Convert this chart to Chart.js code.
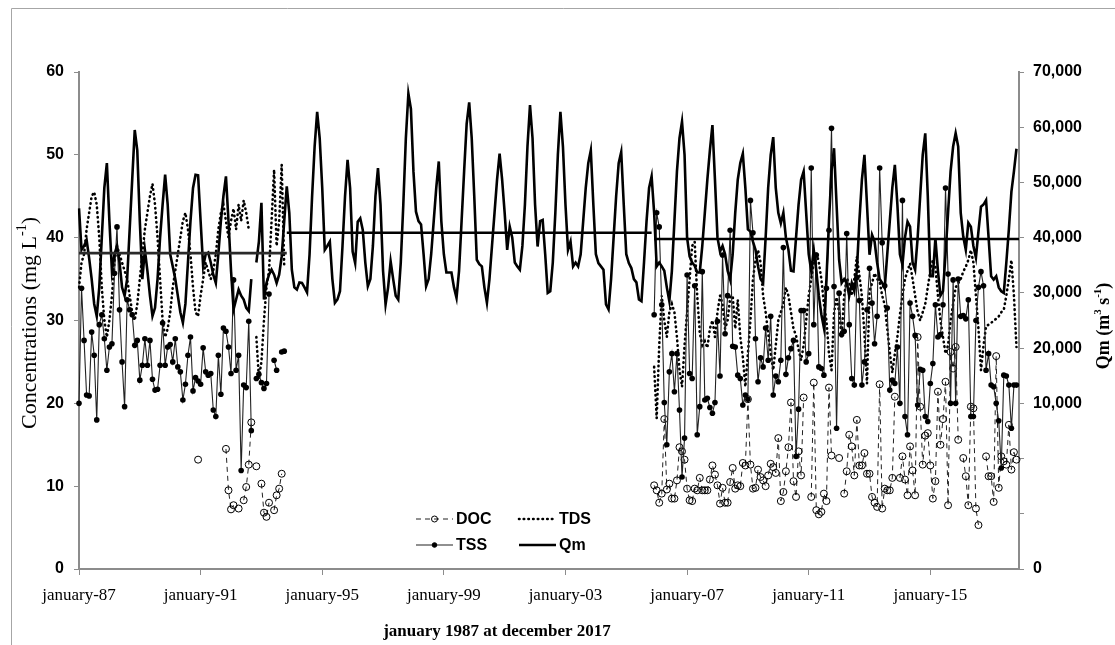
<!DOCTYPE html>
<html>
<head>
<meta charset="utf-8">
<script src="https://cdn.jsdelivr.net/npm/chart.js@4.4.1/dist/chart.umd.min.js"></script>
<style>
  html, body { margin: 0; padding: 0; background: #fff; }
  #wrap { width: 1115px; height: 645px; position: relative; }
</style>
</head>
<body>
<div id="wrap"><canvas id="chart"></canvas></div>
<script>
/* monthly series, january 1987 .. december 2017 */
const monthNames = ["january", "february", "march", "april", "may", "june", "july",
  "august", "september", "october", "november", "december"];
const firstYear = 1987;
const lastYear = 2017;
const labelEvery = 48; // one x label every 4 years

// index of the first month of the second sampling period (december 2005)
const lateStart = 227;

// Qm, mean monthly discharge (m3 s-1), one row per year
const qm = [
  45300, 37800, 38500, 39600, 36300, 32500, 28000, 25800, 31000, 40000, 49000, 53500,
  43000, 34000, 37000, 38500, 35500, 31000, 29500, 32500, 41500, 50500, 59500, 55800,
  43000, 32500, 37800, 34000, 29500, 25800, 27300, 32500, 40000, 46000, 51400, 46000,
  37000, 34800, 32500, 29500, 26500, 24600, 28000, 35500, 43000, 49000, 51400, 51300,
  43000, 34800, 37000, 37300, 35500, 33300, 31800, 37000, 43000, 47500, 51100, 43000,
  34000, 27000, 28800, 30600, 29500, 28800, 27300, 26700, 32500, null, 35500, 39300,
  46300, 28800, 31800, 33300, 34200, 33300, 31800, 33300, 36600, 43000, 49300, 44500,
  34200, 31000, 30600, 31900, 31800, 31000, 30100, 37000, 47500, 56500, 62800, 58000,
  49000, 37800, 38500, 39300, 32500, 28200, 28800, 30300, 38500, 47500, 54100, 49000,
  37500, 35400, 42900, 43500, 41400, 35500, 31200, 32500, 38500, 47500, 52600, 46000,
  34000, 27900, 31000, 35700, 32500, 29500, 28800, 35500, 46000, 58000, 66100, 63300,
  52000, 44700, 43000, 42400, 37000, 31200, 32500, 37000, 43000, 49000, 53800, 43000,
  37000, 33700, 33700, 33700, 31000, 29100, 34000, 43000, 52000, 60600, 64500, 58000,
  47500, 36000, 35200, 34800, 31000, 28200, 32500, 38500, 44500, 50500, 55200, 50500,
  44500, 37800, 42000, 40000, 35500, 34800, 34200, 38500, 46000, 56500, 64000, 58000,
  46000, 38400, 43000, 43200, 37000, 30000, 30300, 35500, 44500, 55000, 62800, 56500,
  46000, 37800, 39300, 34800, 35500, 34800, 37000, 43000, 49000, 53500, 55800, 46000,
  37000, 35400, 34800, 34200, 27900, 27000, 32500, 40000, 47500, 53500, 55500, 46000,
  37000, 35400, 34500, 32500, 31900, 28800, 28500, 35500, 43000, 49000, 51100, 44500,
  34800, 35500, 34800, 34000, 31000, 28500, 34000, 43000, 52000, 58000, 61000, 55000,
  40000, 36600, 35500, 34900, 33700, 33700, 38500, 44500, 50500, 55800, 60400, 50500,
  40000, 37500, 38500, 37000, 34000, 32400, 37000, 44500, 50500, 53500, 55200, 49000,
  41500, 41100, 39300, 37800, 34800, 32500, 31800, 40000, 49000, 55000, 58200, 49000,
  44500, 42600, 44500, 40000, 37800, 34000, 33900, 40000, 46000, 50500, 52000, 44500,
  37000, 34000, 37800, 34000, 29500, 26100, 23700, 32500, 43000, 52000, 56200, 46000,
  36000, 31800, 32500, 31800, 29500, 31800, 30300, 34000, 43000, 50500, 55000, 46000,
  36900, 40500, 39300, 35500, 32500, 31800, 30900, 37000, 43000, 49000, 53200, 46000,
  37000, 35100, 40000, 42900, 42000, 35500, 34200, 40000, 47500, 55000, 58900, 47500,
  33000, 33000, 39900, 34000, 29500, 30300, 37000, 44500, 52000, 56500, 58900, 56500,
  44500, 40200, 37800, 42700, 42000, 38500, 36400, 41200, 45600, 46000, 46800, 40000,
  33000, 32400, 33000, 31000, 30300, 30000, 35500, 41500, 48300, 52000, 56100, null
];

// mean discharge of each period (m3 s-1) and the months it spans
const qmMeans = [37200, 40900, 39750];
const qmMeanFrom = [0, 82, 227];
const qmMeanTo = [82, 226, 371];

// TSS (mg L-1), january 1987 .. october 1993
const tssEarly = [
  20.0, 33.9, 27.6, 21.0, 20.9, 28.6, 25.8, 18.0, 29.5, 30.7,
  27.8, 24.0, 26.8, 27.2, 35.7, 41.3, 31.3, 25.0, 19.6, 32.5,
  31.3, 30.7, 27.0, 27.6, 22.8, 24.6, 27.8, 24.6, 27.6, 22.9,
  21.6, 21.7, 24.6, 29.7, 24.6, 26.8, 27.1, 25.0, 27.8, 24.4,
  23.8, 20.4, 22.3, 25.8, 28.0, 21.5, 23.1, 22.7, 22.3, 26.7,
  23.8, 23.4, 23.6, 19.2, 18.4, 25.8, 21.1, 29.1, 28.7, 26.8,
  23.6, 34.9, 24.0, 25.8, 11.9, 22.2, 21.9, 29.9, 16.7, null,
  23.0, 23.5, 22.5, 21.8, 22.4, 33.2, null, 25.2, 24.0, null,
  26.2, 26.3
];

// TDS (mg L-1), january 1987 .. october 1993
const tdsEarly = [
  34, 37, 38, 41, 43, 45, 45.5, 44, 40, 34,
  30, 28, 30, 33, 37, 39, 38, 37, 36, 35,
  33, 31, 30, 32, 35, 38, 41, 43, 45, 46.5,
  44, 40, 35, 30, 28, 29, 31, 34, 36, 38,
  40, 42, 43, 41, 38, 34, 31, 30.5, 33, 35,
  37, 36, 35, 36, 38, 41, 43, 44, 42, 40,
  42, 43.5, 41, 44, 42, 44.5, 43, 41, null, null,
  28, 23, 25, 30, 34, 36, 42, 48.2, 39, 42,
  48.8, 36.5
];

// DOC (mg L-1), january 1987 .. october 1993
const docEarly = [
  null, null, null, null, null, null, null, null, null, null,
  null, null, null, null, null, null, null, null, null, null,
  null, null, null, null, null, null, null, null, null, null,
  null, null, null, null, null, null, null, null, null, null,
  null, null, null, null, null, null, null, 13.2, null, null,
  null, null, null, null, null, null, null, null, 14.5, 9.5,
  7.2, 7.7, null, 7.3, null, 8.3, 9.9, 12.6, 17.7, null,
  12.4, null, 10.3, 6.8, 6.3, 8.0, null, 7.1, 8.9, 9.7,
  11.5, null
];

// TSS (mg L-1), december 2005 .. december 2017
const tssLate = [
  30.7, 43, 41.3, 31.9, 20.1, 15, 23.8, 26, 21.4, 26,
  19.2, 11.1, 15.8, 35.5, 23.6, 23, 34.2, 16.2, 19.6, 35.9,
  20.4, 20.6, 19.5, 18.8, 20.1, 29.9, 23.3, 37.9, 28.4, 33,
  40.9, 26.9, 26.8, 23.4, 23, 19.8, 21, 20.5, 44.5, 40.6,
  27.8, 22.6, 25.5, 24.4, 29.1, 25.2, 30.5, 21, 23.3, 22.6,
  25.2, 38.8, 23.5, 25.5, 26.6, 27.6, 13.6, 19.3, 31.2, 31.2,
  25, 26, 48.4, 29.5, 37.9, 24.4, 24.2, 23.4, 33.9, 40.9,
  53.2, 34.1, 17, 33.3, 28.3, 28.7, 40.5, 29.5, 23, 22.2,
  35.2, 32.4, 22.2, 25, 31.3, 36.3, 32.1, 27.2, 30.5, 48.4,
  39.4, 34.2, 31.5, 21.6, 22.8, 22.4, 26.8, 20, 44.5, 18.4,
  16.2, 32.1, 30.5, 28.2, 19.8, 24.1, 24, 18.4, 17.8, 22.4,
  24.8, 31.9, 28, 28.3, 31.9, 46, 35.6, 20, 34.9, 20,
  35, 30.5, 30.6, 30.2, 32.5, 18.4, 18.4, 30, 34, 35.9,
  34.2, 24, 26, 22.2, 22, 20, 17.9, 12.2, 23.4, 23.3,
  22.2, 17, 22.2, 22.2, null
];

// TDS (mg L-1), december 2005 .. december 2017
const tdsLate = [
  24.4, 18.2, 27, 33, 30, 28, 31, 32, 31, 28,
  24, 22, 27, 31, 35, 39, 39.5, 33, 28.5, 27,
  27.5, 26.7, 29, 30, 28, 31, 33, 32, 29, 30,
  32.8, 33, 29, 32.5, 28, 25.6, 22, 26, 30, 35,
  37.3, 38.5, 37, 33, 31, 28.5, 26, 24, 27, 30,
  31, 32, 34, 33, 31, 29, 28.2, 26.5, 25.2, 27,
  30, 33, 35, 37, 38.3, 37, 35, 32, 30, 26,
  24, 30.9, 32.8, 31, 28, 33, 35.1, 34.5, 33, 35,
  37.7, 35.5, 32.9, 28.4, 22.4, 33.5, 34.5, 35.7, 35, 34.7,
  33, 31.9, 29, 26.2, 23.7, 26, 28, 30.7, 33, 35,
  36, 36.9, 35, 33, 31, 30, 31, 32, 34, 36,
  37.3, 36.5, 33, 30, 28, 26, 27, 30, 32, 34,
  34.5, 35, 35.9, 36.5, 37.3, 38.5, 37, 33, 29, 24,
  27, 29.3, 29.5, 29.7, 30, 30.2, 30.5, 31, 31.3, 33,
  35, 37.3, 33, 26.8, null
];

// DOC (mg L-1), december 2005 .. december 2017
const docLate = [
  10.1, 9.5, 8.0, 9.1, 18.1, 9.6, 10.3, 8.5, 8.5, 10.7,
  14.7, 14.2, 13.2, 9.7, 8.3, 8.2, 9.7, 9.5, 11.0, 9.5,
  9.5, 9.5, 10.8, 12.5, 11.4, 10.1, 7.9, 9.8, 8.0, 8.0,
  10.5, 12.2, 9.7, 10.1, 10.0, 12.8, 12.5, 20.5, 12.6, 9.7,
  9.8, 12.0, 11.1, 10.7, 10.0, 11.3, 12.7, 12.3, 11.6, 15.8,
  8.2, 9.3, 11.8, 14.7, 20.1, 10.6, 8.7, 14.2, 11.3, 20.7,
  null, null, 8.7, 22.5, 7.1, 6.6, 6.9, 9.1, 8.2, 21.9,
  13.7, null, null, 13.4, null, 9.1, 11.8, 16.2, 14.8, 11.3,
  18.0, 12.5, 12.5, 14.0, 11.5, 11.5, 8.7, 8.0, 7.5, 22.3,
  7.3, 9.7, 9.5, 9.5, 11.0, 20.8, null, 11.0, 13.6, 10.8,
  8.9, 14.8, 11.9, 8.9, 28.0, 19.6, 12.6, 16.1, 16.4, 12.5,
  8.5, 10.6, 21.4, 15.0, 18.1, 22.6, 7.7, 26.2, 24.2, 26.8,
  15.6, null, 13.4, 11.2, 7.7, 19.6, 19.4, 7.3, 5.3, null,
  null, 13.6, 11.2, 11.2, 8.1, 25.7, 9.8, 13.6, 13.0, 12.6,
  17.4, 12.0, 14.1, 13.2, null
];

// axis ranges and ticks
const concMin = 0, concMax = 60, concStep = 10;
const qmMin = -20000, qmMax = 70000, qmStep = 10000;

// month labels
const labels = [];
for (let y = firstYear; y <= lastYear; y++) {
  monthNames.forEach(m => labels.push(m + "-" + String(y).slice(2)));
}

function joinPeriods(early, late) {
  const out = labels.map(() => null);
  early.forEach((v, i) => { out[i] = v; });
  late.forEach((v, i) => { out[lateStart + i] = v; });
  return out;
}

function meanLine(k) {
  return labels.map((_, i) => (i >= qmMeanFrom[k] && i <= qmMeanTo[k]) ? qmMeans[k] : null);
}

const serif = "'Liberation Serif', 'DejaVu Serif', serif";
const sans = "'Liberation Sans', Arial, sans-serif";

// text with superscripts, centred on (0,0) of the current transform
function drawRich(ctx, parts, size, weight) {
  const normal = `${weight} ${size}px ${serif}`;
  const small = `${weight} ${Math.round(size * 0.62)}px ${serif}`;
  let total = 0;
  parts.forEach(p => {
    ctx.font = p.sup ? small : normal;
    p.w = ctx.measureText(p.t).width;
    total += p.w;
  });
  let x = -total / 2;
  ctx.textAlign = "left";
  ctx.textBaseline = "middle";
  parts.forEach(p => {
    ctx.font = p.sup ? small : normal;
    ctx.fillText(p.t, x, p.sup ? -size * 0.33 : 0);
    x += p.w;
  });
}

const decorPlugin = {
  id: "decor",
  beforeDraw(chart) {
    const ctx = chart.ctx;
    ctx.save();
    ctx.fillStyle = "#fff";
    ctx.fillRect(0, 0, chart.width, chart.height);
    ctx.strokeStyle = "#a6a6a6";
    ctx.lineWidth = 1;
    ctx.beginPath();
    ctx.moveTo(11.5, 645);
    ctx.lineTo(11.5, 8.5);
    ctx.lineTo(1115, 8.5);
    ctx.stroke();
    ctx.restore();
  },
  afterDraw(chart) {
    const ctx = chart.ctx;
    ctx.save();
    ctx.fillStyle = "#000";

    // left axis title
    ctx.save();
    ctx.translate(30, 323);
    ctx.rotate(-Math.PI / 2);
    drawRich(ctx, [{ t: "Concentrations (mg L" }, { t: "-1", sup: true }, { t: ")" }], 22, "normal");
    ctx.restore();

    // right axis title
    ctx.save();
    ctx.translate(1104, 326);
    ctx.rotate(-Math.PI / 2);
    drawRich(ctx, [{ t: "Qm (m" }, { t: "3", sup: true }, { t: " s" }, { t: "-1", sup: true }, { t: ")" }], 18, "bold");
    ctx.restore();

    // x axis title
    ctx.save();
    ctx.translate(497, 632);
    drawRich(ctx, [{ t: "january 1987 at december 2017" }], 17, "bold");
    ctx.restore();

    // legend, two columns by two rows
    const items = [
      { ds: 0, x: 416, y: 519 }, { ds: 1, x: 519, y: 519 },
      { ds: 2, x: 416, y: 545 }, { ds: 3, x: 519, y: 545 }
    ];
    items.forEach(it => {
      const d = chart.data.datasets[it.ds];
      const len = 37;
      ctx.save();
      ctx.strokeStyle = d.borderColor;
      ctx.lineWidth = d.borderWidth;
      ctx.lineCap = d.borderCapStyle || "butt";
      ctx.setLineDash(d.borderDash || []);
      ctx.beginPath();
      ctx.moveTo(it.x, it.y);
      ctx.lineTo(it.x + len, it.y);
      ctx.stroke();
      ctx.setLineDash([]);
      if (d.pointRadius > 0) {
        ctx.beginPath();
        ctx.arc(it.x + len / 2, it.y, d.pointRadius - 0.5, 0, Math.PI * 2);
        ctx.fillStyle = d.pointBackgroundColor;
        ctx.fill();
        ctx.lineWidth = 1;
        ctx.strokeStyle = d.pointBorderColor;
        ctx.stroke();
      }
      ctx.fillStyle = "#000";
      ctx.font = `bold 16px ${sans}`;
      ctx.textAlign = "left";
      ctx.textBaseline = "middle";
      ctx.fillText(d.label, it.x + len + 3, it.y + 1);
      ctx.restore();
    });
    ctx.restore();
  }
};

const axisGrey = "#8c8c8c";

new Chart(document.getElementById("chart"), {
  type: "line",
  data: {
    labels: labels,
    datasets: [
      {
        label: "DOC",
        data: joinPeriods(docEarly, docLate),
        yAxisID: "y",
        borderColor: "#222",
        borderWidth: 1,
        borderDash: [5, 4],
        pointRadius: 3.5,
        pointBackgroundColor: "rgba(255,255,255,0)",
        pointBorderColor: "#000",
        pointBorderWidth: 1,
        order: 4
      },
      {
        label: "TDS",
        data: joinPeriods(tdsEarly, tdsLate),
        yAxisID: "y",
        borderColor: "#000",
        borderWidth: 2.6,
        borderDash: [0.5, 4.2],
        borderCapStyle: "round",
        pointRadius: 0,
        order: 3
      },
      {
        label: "TSS",
        data: joinPeriods(tssEarly, tssLate),
        yAxisID: "y",
        borderColor: "#222",
        borderWidth: 1.1,
        pointRadius: 2.8,
        pointBackgroundColor: "#000",
        pointBorderColor: "#000",
        pointBorderWidth: 0,
        order: 2
      },
      {
        label: "Qm",
        data: qm,
        yAxisID: "y2",
        borderColor: "#000",
        borderWidth: 2.6,
        pointRadius: 0,
        order: 1
      },
      ...qmMeans.map((_, k) => ({
        label: "mean " + (k + 1),
        data: meanLine(k),
        yAxisID: "y2",
        borderColor: k === 0 ? "#2a2a2a" : "#000",
        borderWidth: 2.6,
        pointRadius: 0,
        order: 0
      }))
    ]
  },
  options: {
    responsive: true,
    maintainAspectRatio: false,
    animation: false,
    devicePixelRatio: 1,
    layout: { padding: { top: 72, left: 0, right: 0, bottom: 0 } },
    plugins: {
      legend: { display: false },
      tooltip: { enabled: false }
    },
    elements: { line: { tension: 0 } },
    scales: {
      x: {
        type: "category",
        offset: false,
        border: { display: true, color: axisGrey, width: 2 },
        grid: {
          drawOnChartArea: false,
          drawTicks: true,
          tickLength: 6,
          color: ctx => (ctx.index % labelEvery === 0 ? axisGrey : "rgba(0,0,0,0)")
        },
        ticks: {
          autoSkip: false,
          maxRotation: 0,
          minRotation: 0,
          padding: 10,
          color: "#000",
          font: { family: serif, size: 17 },
          callback: (v, i) => (i % labelEvery === 0 ? labels[i] : "")
        },
        afterFit: s => { s.height = 76; }
      },
      y: {
        position: "left",
        min: concMin,
        max: concMax,
        border: { display: true, color: axisGrey, width: 2 },
        grid: { drawOnChartArea: false, tickLength: 5, color: axisGrey },
        ticks: {
          stepSize: concStep,
          padding: 10,
          color: "#000",
          font: { family: sans, size: 16, weight: "bold" }
        },
        afterFit: s => { s.width = 79; }
      },
      y2: {
        position: "right",
        min: qmMin,
        max: qmMax,
        border: { display: true, color: axisGrey, width: 2 },
        grid: { drawOnChartArea: false, tickLength: 5, color: axisGrey },
        ticks: {
          stepSize: qmStep,
          padding: 9,
          color: "#000",
          font: { family: sans, size: 16, weight: "bold" },
          callback: v => (v === qmMin ? "0" : v >= 10000 ? v.toLocaleString("en-US") : "")
        },
        afterFit: s => { s.width = 96; }
      }
    }
  },
  plugins: [decorPlugin]
});
</script>
</body>
</html>
